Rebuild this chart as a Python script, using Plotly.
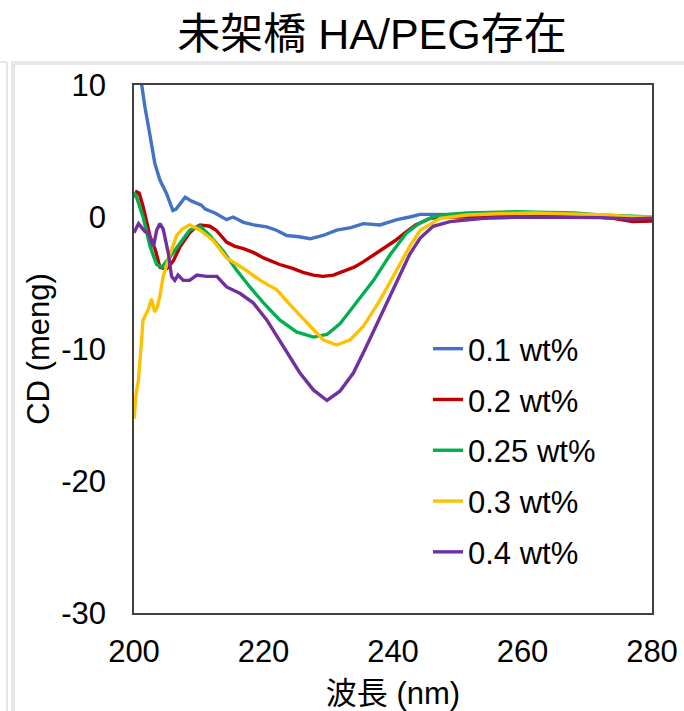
import plotly.graph_objects as go

# ---- data ----
series_names = ["0.1 wt%", "0.2 wt%", "0.25 wt%", "0.3 wt%", "0.4 wt%"]
series_colors = ["#4472C4", "#C00000", "#00B050", "#FFC000", "#7030A0"]

wl_01 = [200, 201.2, 201.7, 202.5, 203.2, 204.0, 205.0, 206.0, 206.5, 207.9, 208.9, 210.4, 211.0, 212.5,
         214.3, 215.3, 216.9, 218.5, 220.5, 222.0, 223.6, 225.5, 227.2, 229.2, 231.3, 233.5, 235.4, 238.0,
         240.6, 242.6, 244.2, 246, 250, 255, 260, 265, 270, 275, 280]
cd_01 = [14, 10, 8.3, 6.1, 4.1, 2.8, 1.8, 0.5, 0.6, 1.5, 1.2, 0.9, 0.6, 0.3,
         -0.2, 0.0, -0.4, -0.6, -0.75, -1.0, -1.4, -1.5, -1.65, -1.4, -1.0, -0.8, -0.5, -0.6,
         -0.2, 0.0, 0.2, 0.2, 0.15, 0.15, 0.1, 0.15, 0.1, 0.0, -0.05]

wl_02 = [200, 200.4, 200.8, 201.4, 202.5, 203.3, 204.0, 204.6, 205.1, 205.6, 206.1, 207.1, 208.6, 209.5,
         210.2, 211.7, 212.7, 214.3, 215.5, 216.9, 218.5, 220.0, 222.5, 224.5, 226.1, 227.7, 229.2, 230.8,
         232.3, 234, 235.4, 237, 238.5, 240.3, 242.1, 243.5, 245.7, 248, 251.4, 255, 260, 265, 270, 274, 277, 280]
cd_02 = [1.5, 1.9, 1.8, 0.8, -1.5, -2.5, -3.8, -3.9, -3.9, -3.6, -3.3, -2.25, -1.2, -0.8,
         -0.6, -0.7, -1.0, -1.9, -2.2, -2.4, -2.7, -3.1, -3.6, -3.9, -4.2, -4.4, -4.5, -4.4,
         -4.1, -3.8, -3.4, -2.9, -2.4, -1.8, -1.1, -0.6, -0.1, 0.0, 0.0, 0.05, 0.1, 0.1, 0.05, -0.1, -0.35, -0.3]

wl_025 = [200, 200.4, 201.4, 202.5, 203.5, 204.3, 205.6, 207.1, 208.6, 210.2, 211.7, 213.8, 215.8, 217.9,
          220.0, 222.5, 225.1, 227.7, 229.8, 231.8, 234.4, 237.0, 239.5, 242.1, 244, 246.2, 248.5, 251.4,
          255, 259.1, 264, 268, 272, 276, 280]
cd_025 = [1.9, 1.5, 0.0, -2.25, -3.6, -3.8, -3.0, -2.0, -1.0, -0.7, -1.4, -2.6, -4.0, -5.3,
          -6.5, -7.8, -8.7, -9.1, -8.9, -8.1, -6.5, -4.8, -2.9, -1.2, -0.5, 0.0, 0.2, 0.3,
          0.35, 0.4, 0.35, 0.3, 0.15, 0.05, 0.0]

wl_03 = [200, 200.3, 200.7, 201.4, 202.2, 202.7, 203.2, 203.6, 204.0, 204.5, 205.6, 206.6, 207.5, 208.6,
         210.2, 212.2, 214.3, 216.9, 219.5, 222.0, 224.6, 227.2, 229.2, 231.3, 233.4, 235.4, 238.0, 240.6,
         242.6, 244.2, 247.3, 251.4, 256, 261.6, 267, 273, 277, 280]
cd_03 = [-15.3, -13.5, -12.3, -7.8, -7.0, -6.2, -7.2, -6.8, -6.0, -4.5, -2.75, -1.4, -0.9, -0.6,
         -1.0, -1.75, -3.1, -3.9, -4.8, -5.5, -6.9, -8.3, -9.3, -9.7, -9.3, -8.3, -6.3, -4.0,
         -2.2, -1.0, -0.1, 0.15, 0.25, 0.3, 0.25, 0.15, 0.0, 0.0]

wl_04 = [200, 200.7, 201.7, 202.2, 203.0, 203.5, 204.0, 204.5, 205.3, 205.8, 206.3, 206.8, 207.6, 208.6,
         209.7, 211.2, 212.8, 214.3, 216.4, 218.4, 220.5, 223.1, 225.6, 227.7, 229.8, 231.8, 233.9, 235.9,
         238.0, 240.6, 242.6, 244.2, 246.2, 248.8, 254, 260, 266.8, 272, 277, 280]
cd_04 = [-1.2, -0.5, -1.1, -1.2, -2.25, -1.0, -0.5, -0.9, -2.75, -4.5, -4.8, -4.4, -4.8, -4.8,
         -4.4, -4.5, -4.5, -5.3, -5.8, -6.5, -7.8, -9.8, -11.8, -13.1, -13.9, -13.2, -11.8, -9.8,
         -7.6, -4.8, -2.8, -1.6, -0.7, -0.35, -0.1, 0.0, 0.0, -0.05, -0.15, -0.1]

x_ticks = [200, 220, 240, 260, 280]
y_ticks = [10, 0, -10, -20, -30]

all_x = [wl_01, wl_02, wl_025, wl_03, wl_04]
all_y = [cd_01, cd_02, cd_025, cd_03, cd_04]

FONT = "Arial, 'Liberation Sans', 'Noto Sans CJK JP', sans-serif"

fig = go.Figure()
for i, (xs, ys) in enumerate(zip(all_x, all_y)):
    fig.add_trace(go.Scatter(
        x=xs, y=ys, mode="lines", name=series_names[i],
        line=dict(color=series_colors[i], width=3.4),
        legendgroup=f"g{i}",
    ))

W, H = 684, 711
L, R, T, B = 134, 652, 85, 613

fig.update_layout(
    width=W, height=H,
    margin=dict(l=L, r=W - R, t=T, b=H - B, autoexpand=False),
    paper_bgcolor="white", plot_bgcolor="white",
    font=dict(family=FONT, size=31, color="#000000"),
    title=dict(text="未架橋 HA/PEG存在", font=dict(family=FONT, size=43, color="#000000"),
               x=372 / W, xanchor="center", xref="container",
               y=1 - 34 / H, yanchor="middle", yref="container"),
    showlegend=True,
    legend=dict(x=(428 - L) / (R - L), y=(B - 322) / (B - T), xanchor="left", yanchor="top",
                bgcolor="rgba(0,0,0,0)", font=dict(family=FONT, size=31, color="#000000"),
                tracegroupgap=7.5, itemwidth=30),
)
fig.update_xaxes(
    range=[200, 280], tickvals=x_ticks, ticktext=[str(v) for v in x_ticks],
    showgrid=False, zeroline=False, showline=True, mirror=True, automargin=True,
    linecolor="#404040", linewidth=1.5, ticks="", ticklabelstandoff=10,
    title=dict(text="波長 (nm)", font=dict(family=FONT, size=31), standoff=22),
)
fig.update_yaxes(
    range=[-30, 10], tickvals=y_ticks, ticktext=[str(v) for v in y_ticks],
    showgrid=False, zeroline=False, showline=True, mirror=True, automargin=True,
    linecolor="#404040", linewidth=1.5, ticks="", ticklabelstandoff=20,
    title=dict(text="CD (meng)", font=dict(family=FONT, size=31), standoff=2),
)

# light frame lines of the surrounding sheet (screenshot border)
def px_x(p):
    return (p - L) / (R - L)

def px_y(p):
    return (B - p) / (B - T)

frame_col = "#cfcfcf"
for (x0, y0, x1, y1) in [(7, 62, 7, 711), (0, 62, 7, 62), (12, 62, 12, 711), (12, 62, 684, 62),
                         (14, 64, 684, 64), (14, 64, 14, 711)]:
    fig.add_shape(type="line", xref="paper", yref="paper",
                  x0=px_x(x0), y0=px_y(y0), x1=px_x(x1), y1=px_y(y1),
                  line=dict(color=frame_col, width=1), layer="below")

fig.write_html("out.html")
